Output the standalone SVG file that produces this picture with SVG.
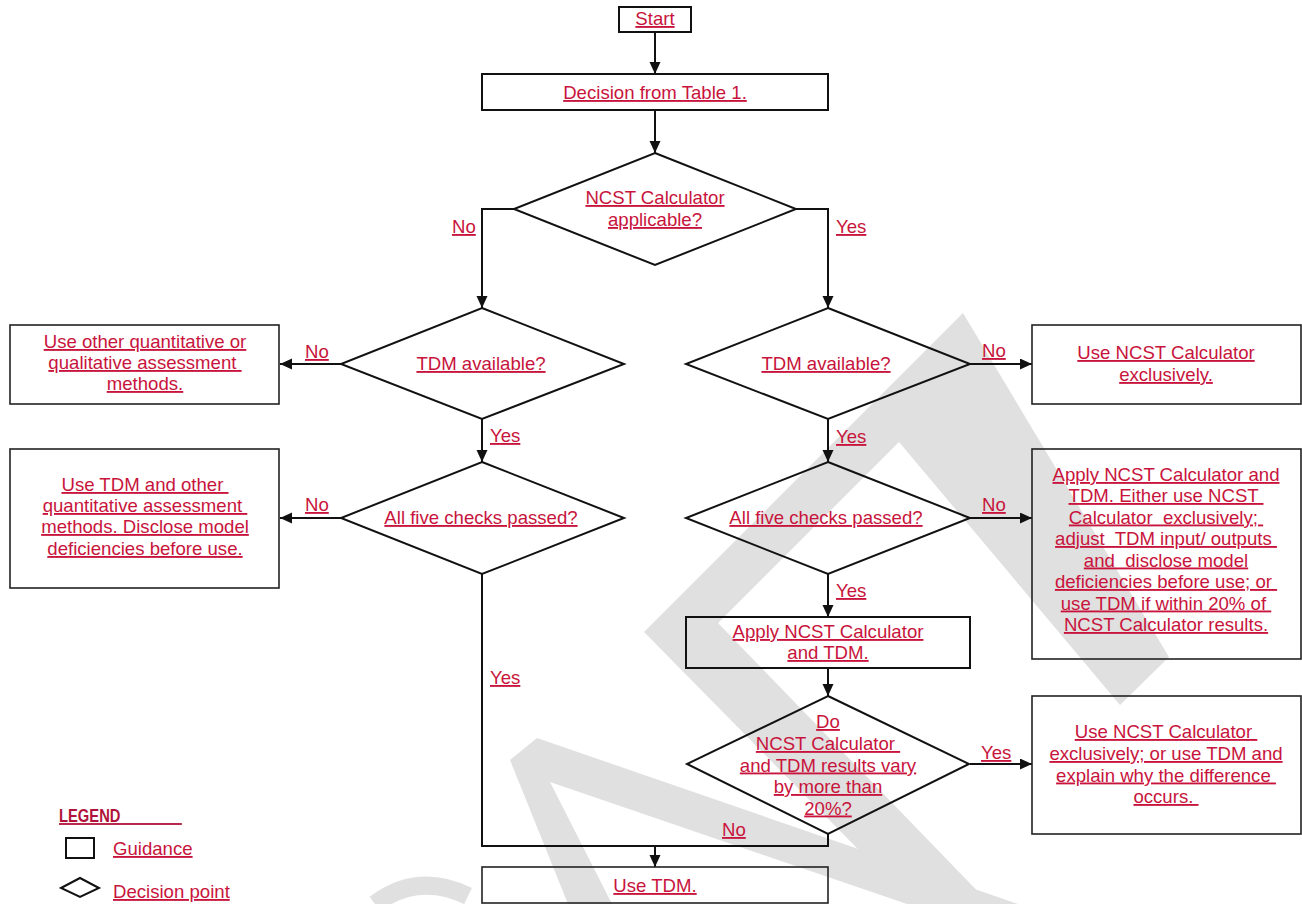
<svg xmlns="http://www.w3.org/2000/svg" width="1302" height="904" viewBox="0 0 1302 904">
<style>
.t{font-family:'Liberation Sans',Arial,sans-serif;font-size:18.6px;fill:#c8143c;text-decoration:underline;text-anchor:middle}
.l{font-family:'Liberation Sans',Arial,sans-serif;font-size:18.6px;fill:#c8143c;text-decoration:underline;text-anchor:start}
.box{fill:none;stroke:#111;stroke-width:2}
.tbox{fill:none;stroke:#222;stroke-width:1.6}
.dia{fill:none;stroke:#111;stroke-width:2}
.conn{fill:none;stroke:#111;stroke-width:2}
.wm{fill:#e0e0e0}
</style>
<defs>
<marker id="ah" markerUnits="userSpaceOnUse" markerWidth="13" markerHeight="12" refX="12" refY="5.5" orient="auto">
<path d="M0,0 L12,5.5 L0,11 Z" fill="#111"/>
</marker>
</defs>
<rect width="1302" height="904" fill="#fff"/>
<g id="watermark">
<polygon class="wm" points="644,632 963,313 1169,657 1120,705 899,442 706,635"/>
<polygon class="wm" points="644,632 718,623 990,904 912,904"/>
<polygon class="wm" points="568,904 510,760 537,738 1018,904 907,904 550,782 612,904"/>
<path d="M375,904 Q418,872 468,896" fill="none" stroke="#e0e0e0" stroke-width="18"/>
</g>
<g id="connectors">
<path class="conn" d="M655,32 V74" marker-end="url(#ah)"/>
<path class="conn" d="M655,110 V153" marker-end="url(#ah)"/>
<path class="conn" d="M514,209 H482 V308" marker-end="url(#ah)"/>
<path class="conn" d="M796,209 H828 V308" marker-end="url(#ah)"/>
<path class="conn" d="M341,364 H280" marker-end="url(#ah)"/>
<path class="conn" d="M482,419 V462" marker-end="url(#ah)"/>
<path class="conn" d="M341,518 H280" marker-end="url(#ah)"/>
<path class="conn" d="M970,364 H1032" marker-end="url(#ah)"/>
<path class="conn" d="M828,419 V462" marker-end="url(#ah)"/>
<path class="conn" d="M970,518 H1032" marker-end="url(#ah)"/>
<path class="conn" d="M828,574 V617" marker-end="url(#ah)"/>
<path class="conn" d="M828,668 V696" marker-end="url(#ah)"/>
<path class="conn" d="M970,764 H1032" marker-end="url(#ah)"/>
<path class="conn" d="M482,574 V846 H828 V834"/>
<path class="conn" d="M655,846 V867" marker-end="url(#ah)"/>
<text class="l" x="452" y="233">No</text>
<text class="l" x="836" y="233">Yes</text>
<text class="l" x="305" y="358">No</text>
<text class="l" x="490" y="442">Yes</text>
<text class="l" x="305" y="511">No</text>
<text class="l" x="490" y="684">Yes</text>
<text class="l" x="982" y="357">No</text>
<text class="l" x="836" y="443">Yes</text>
<text class="l" x="982" y="511">No</text>
<text class="l" x="836" y="597">Yes</text>
<text class="l" x="981" y="759">Yes</text>
<text class="l" x="722" y="836">No</text>
</g>
<g id="start">
<rect class="box" x="619" y="7" width="72" height="25"/>
<text class="t" x="655" y="25">Start</text>
</g>
<g id="decision-table">
<rect class="box" x="482" y="74" width="346" height="36"/>
<text class="t" x="655" y="99">Decision from Table 1.</text>
</g>
<g id="ncst-applicable">
<polygon class="dia" points="655,153 796,209 655,265 514,209"/>
<text class="t" x="655" y="204">NCST Calculator</text>
<text class="t" x="655" y="226">applicable?</text>
</g>
<g id="tdm-available-left">
<polygon class="dia" points="482,308 624,364 482,419 341,364"/>
<text class="t" x="481" y="370">TDM available?</text>
</g>
<g id="tdm-available-right">
<polygon class="dia" points="828,308 970,364 828,419 686,364"/>
<text class="t" x="826" y="370">TDM available?</text>
</g>
<g id="other-methods">
<rect class="tbox" x="10" y="325" width="269" height="79"/>
<text class="t" x="145" y="348">Use other quantitative or</text>
<text class="t" x="145" y="369" xml:space="preserve">qualitative assessment </text>
<text class="t" x="145" y="390">methods.</text>
</g>
<g id="ncst-exclusive">
<rect class="tbox" x="1032" y="325" width="269" height="79"/>
<text class="t" x="1166" y="359">Use NCST Calculator</text>
<text class="t" x="1166" y="381">exclusively.</text>
</g>
<g id="checks-left">
<polygon class="dia" points="482,462 624,518 482,574 341,518"/>
<text class="t" x="481" y="524">All five checks passed?</text>
</g>
<g id="checks-right">
<polygon class="dia" points="828,462 970,518 828,574 686,518"/>
<text class="t" x="826" y="524">All five checks passed?</text>
</g>
<g id="tdm-other">
<rect class="tbox" x="10" y="449" width="269" height="139"/>
<text class="t" x="145" y="491" xml:space="preserve">Use TDM and other </text>
<text class="t" x="145" y="512" xml:space="preserve">quantitative assessment </text>
<text class="t" x="145" y="533">methods. Disclose model</text>
<text class="t" x="145" y="555">deficiencies before use.</text>
</g>
<g id="apply-either">
<rect class="tbox" x="1032" y="449" width="269" height="210"/>
<text class="t" x="1166" y="481">Apply NCST Calculator and</text>
<text class="t" x="1166" y="502" xml:space="preserve">TDM. Either use NCST </text>
<text class="t" x="1166" y="523.5" xml:space="preserve">Calculator  exclusively; </text>
<text class="t" x="1166" y="545" xml:space="preserve">adjust  TDM input/ outputs </text>
<text class="t" x="1166" y="566.5" xml:space="preserve">and  disclose model</text>
<text class="t" x="1166" y="588" xml:space="preserve">deficiencies before use; or </text>
<text class="t" x="1166" y="609.5" xml:space="preserve">use TDM if within 20% of </text>
<text class="t" x="1166" y="631">NCST Calculator results.</text>
</g>
<g id="apply-both">
<rect class="box" x="686" y="617" width="284" height="51"/>
<text class="t" x="828" y="638">Apply NCST Calculator</text>
<text class="t" x="828" y="659">and TDM.</text>
</g>
<g id="vary-20">
<polygon class="dia" points="828,696 969,764 828,834 687,764"/>
<text class="t" x="828" y="728">Do</text>
<text class="t" x="828" y="750" xml:space="preserve">NCST Calculator </text>
<text class="t" x="828" y="771.5">and TDM results vary</text>
<text class="t" x="828" y="793">by more than</text>
<text class="t" x="828" y="814.5">20%?</text>
</g>
<g id="explain-difference">
<rect class="tbox" x="1032" y="696" width="269" height="138"/>
<text class="t" x="1166" y="738" xml:space="preserve">Use NCST Calculator </text>
<text class="t" x="1166" y="760">exclusively; or use TDM and</text>
<text class="t" x="1166" y="781.5" xml:space="preserve">explain why the difference </text>
<text class="t" x="1166" y="803" xml:space="preserve">occurs. </text>
</g>
<g id="use-tdm">
<rect class="tbox" x="482" y="867" width="346" height="36"/>
<text class="t" x="655" y="892">Use TDM.</text>
</g>
<g id="legend">
<text transform="translate(59,822) scale(0.82,1)" x="0" y="0" xml:space="preserve" style="font-family:'Liberation Sans',Arial,sans-serif;font-size:18px;font-weight:bold;fill:#b0123a;text-decoration:underline">LEGEND               </text>
<rect x="66" y="838" width="28" height="20" fill="none" stroke="#111" stroke-width="2"/>
<text class="l" x="113" y="855">Guidance</text>
<polygon points="61,888 80,878 99,888 80,897" fill="none" stroke="#111" stroke-width="2"/>
<text class="l" x="113" y="898">Decision point</text>
</g>
</svg>
